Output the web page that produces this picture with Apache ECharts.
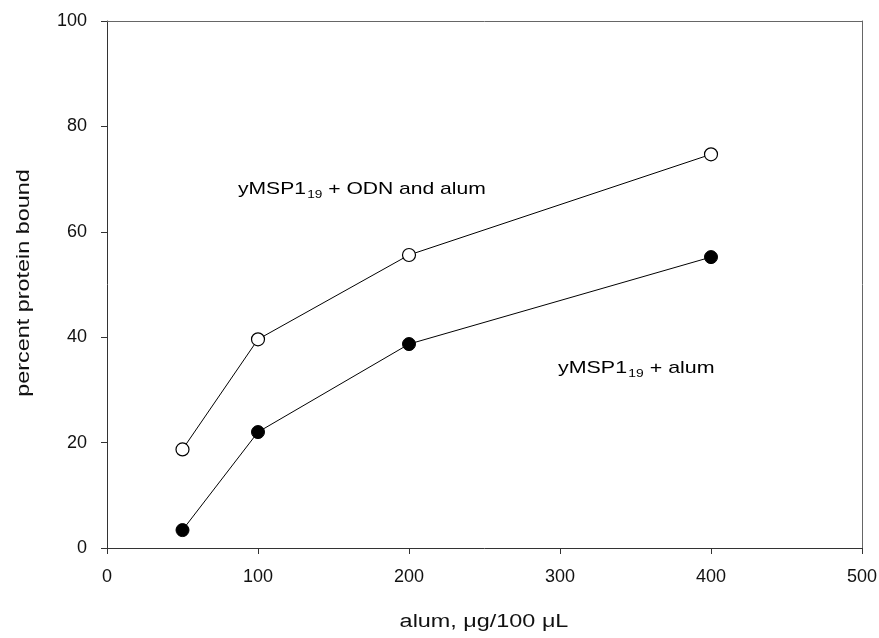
<!DOCTYPE html>
<html>
<head>
<meta charset="utf-8">
<script src="https://cdn.jsdelivr.net/npm/echarts@6/dist/echarts.min.js"></script>
<style>html,body{margin:0;padding:0;background:#fff;}#c{width:879px;height:638px;}</style>
</head>
<body>
<div id="c"></div>
<script>
const alumDose = [50, 100, 200, 400];
const odnAlum = [18.7, 39.6, 55.6, 74.7];
const alumOnly = [3.4, 22.0, 38.7, 55.2];
const xTicks = [0, 100, 200, 300, 400, 500];
const yTicks = [0, 20, 40, 60, 80, 100];
const xTitle = 'alum, μg/100 μL';
const yTitle = 'percent protein bound';

const font = '"Liberation Sans", Arial, sans-serif';
const chart = echarts.init(document.getElementById('c'), null, {renderer: 'canvas'});
const toPairs = (xs, ys) => xs.map((x, i) => [x, ys[i]]);
const rich = {
  n: {fontFamily: font, fontSize: 17, color: '#111', lineHeight: 22},
  s: {fontFamily: font, fontSize: 11, color: '#111', lineHeight: 22, verticalAlign: 'bottom', padding: [8, 0, 0, 1]}
};

chart.setOption({
  animation: false,
  backgroundColor: '#fff',
  grid: {left: 107, right: 17, top: 21, bottom: 90, containLabel: false, outerBoundsMode: 'none'},
  xAxis: [{
    type: 'value', min: xTicks[0], max: xTicks[xTicks.length - 1], interval: 100,
    axisLine: {show: true, onZero: false, lineStyle: {color: '#333', width: 1}},
    axisTick: {show: true, length: 6, lineStyle: {color: '#333'}},
    axisLabel: {fontFamily: font, fontSize: 18, color: '#111', margin: 20},
    splitLine: {show: false}
  }, {
    type: 'value', position: 'top', min: 0, max: 500,
    axisLine: {show: true, onZero: false, lineStyle: {color: '#666', width: 1}},
    axisTick: {show: false}, axisLabel: {show: false}, splitLine: {show: false}
  }],
  yAxis: [{
    type: 'value', min: yTicks[0], max: yTicks[yTicks.length - 1], interval: 20,
    axisLine: {show: true, onZero: false, lineStyle: {color: '#333', width: 1}},
    axisTick: {show: true, length: 6, lineStyle: {color: '#333'}},
    axisLabel: {fontFamily: font, fontSize: 18, color: '#111', margin: 20},
    splitLine: {show: false}
  }, {
    type: 'value', position: 'right', min: 0, max: 100,
    axisLine: {show: true, onZero: false, lineStyle: {color: '#666', width: 1}},
    axisTick: {show: false}, axisLabel: {show: false}, splitLine: {show: false}
  }],
  series: [{
    name: 'yMSP1 19 + ODN and alum', type: 'line', data: toPairs(alumDose, odnAlum),
    symbol: 'circle', symbolSize: 13, showAllSymbol: true,
    lineStyle: {color: '#000', width: 1},
    itemStyle: {color: '#fff', borderColor: '#000', borderWidth: 1.2}, z: 3
  }, {
    name: 'yMSP1 19 + alum', type: 'line', data: toPairs(alumDose, alumOnly),
    symbol: 'circle', symbolSize: 13, showAllSymbol: true,
    lineStyle: {color: '#000', width: 1},
    itemStyle: {color: '#000', borderColor: '#000', borderWidth: 1}, z: 3
  }],
  graphic: [{
    type: 'text', x: 238, y: 189, scaleX: 1.24,
    style: {text: '{n|yMSP1}{s|19}{n| + ODN and alum}', rich: rich, align: 'left', verticalAlign: 'middle'}
  }, {
    type: 'text', x: 558, y: 368, scaleX: 1.26,
    style: {text: '{n|yMSP1}{s|19}{n| + alum}', rich: rich, align: 'left', verticalAlign: 'middle'}
  }, {
    type: 'text', x: 484, y: 622, scaleX: 1.3,
    style: {text: xTitle, fontFamily: font, fontSize: 18, fill: '#111', align: 'center', verticalAlign: 'middle'}
  }, {
    type: 'text', x: 24, y: 283, rotation: Math.PI / 2, scaleX: 1.3,
    style: {text: yTitle, fontFamily: font, fontSize: 18, fill: '#111', align: 'center', verticalAlign: 'middle'}
  }]
});
</script>
</body>
</html>
